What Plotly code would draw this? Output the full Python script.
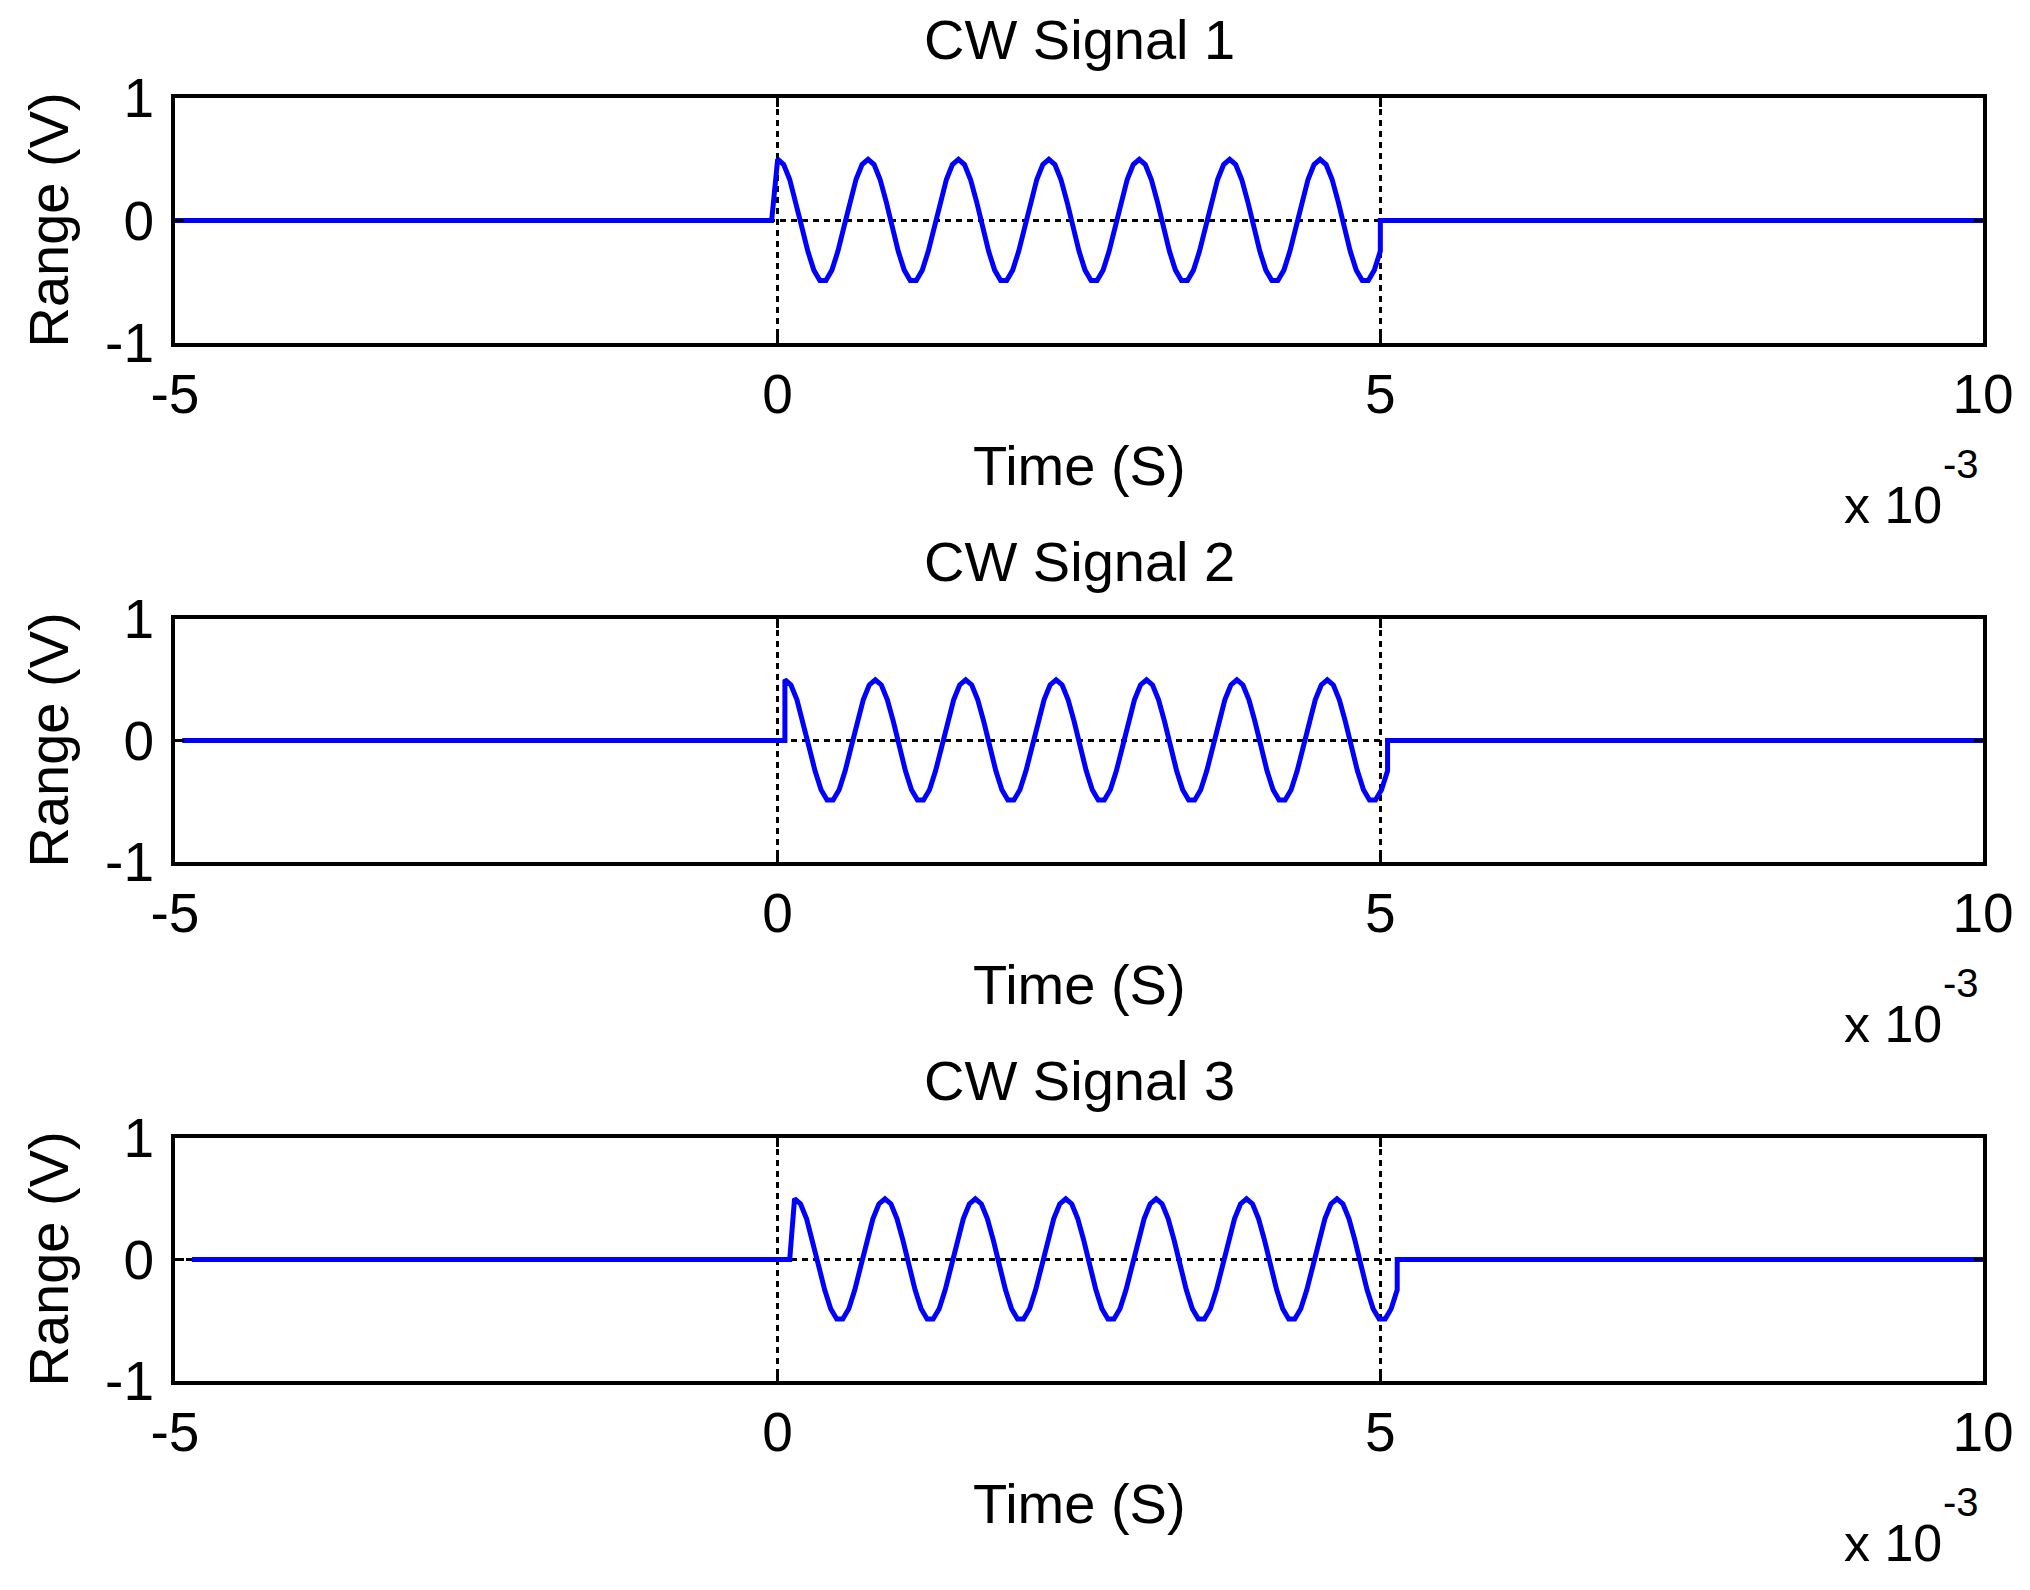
import plotly.graph_objects as go

# ---------------- data ----------------
titles = ["CW Signal 1", "CW Signal 2", "CW Signal 3"]
x_tick_vals = [-5e-3, 0.0, 5e-3, 10e-3]
x_tick_text = ["-5", "0", "5", "10"]
y_tick_vals = [-1, 0, 1]
y_tick_text = ["-1", "0", "1"]

sample_step = 0.05e-3          # seconds between samples
# one period of the sampled carrier (0.75 ms, 15 samples), amplitude 0.5 V
cycle_values = [0.5, 0.457, 0.335, 0.155, -0.052, -0.25, -0.405, -0.489,
                -0.489, -0.405, -0.25, -0.052, 0.155, 0.335, 0.457]
n_pulse_samples = 101          # samples from pulse start to pulse end (5 ms)
pulse_len = 5e-3
delays = [0.0, 0.06e-3, 0.14e-3]        # signal start delays (s)
rise_gaps = [0.05e-3, 0.0, 0.04e-3]     # last zero sample before pulse start
t_start, t_end = -5e-3, 10e-3

# ---------------- figure ----------------
W, H = 2030, 1590
PAGE_OFF = 8   # default body margin of the html page
FONT = "Liberation Sans, Arial, sans-serif"
plot_left, plot_right = 175, 1983
plot_tops = [98, 619, 1138]
plot_bottoms = [343, 862, 1381]


def fx(px):
    return (px - PAGE_OFF) / W


def fy(py):
    return 1 - (py - PAGE_OFF) / H


fig = go.Figure()
annotations = []

for i in range(3):
    d = delays[i]
    t = [t_start + d, d - rise_gaps[i]]
    v = [0.0, 0.0]
    for k in range(n_pulse_samples):
        t.append(d + k * sample_step)
        v.append(cycle_values[k % len(cycle_values)])
    t += [d + pulse_len, t_end + d]
    v += [0.0, 0.0]

    xa = "x" if i == 0 else f"x{i+1}"
    ya = "y" if i == 0 else f"y{i+1}"
    fig.add_trace(go.Scatter(x=t, y=v, mode="lines",
                             line=dict(color="#0000ff", width=5),
                             xaxis=xa, yaxis=ya, showlegend=False,
                             cliponaxis=True))

    axis_common = dict(showline=True, linecolor="black", linewidth=4,
                       mirror="ticks", ticks="inside", ticklen=9,
                       tickwidth=3, tickcolor="black", automargin=False,
                       showgrid=True, gridcolor="black", gridwidth=3,
                       griddash="6px,5px", zeroline=False,
                       tickfont=dict(family=FONT, size=55, color="black"))
    xkey = "xaxis" if i == 0 else f"xaxis{i+1}"
    ykey = "yaxis" if i == 0 else f"yaxis{i+1}"
    fig.update_layout({
        xkey: dict(axis_common, domain=[fx(plot_left), fx(plot_right)],
                   range=[t_start, t_end], tickvals=x_tick_vals,
                   ticktext=x_tick_text, anchor=ya, ticklabelstandoff=0),
        ykey: dict(axis_common,
                   domain=[fy(plot_bottoms[i]), fy(plot_tops[i])],
                   range=[-1, 1], tickvals=y_tick_vals,
                   ticktext=y_tick_text, anchor=xa, ticklabelstandoff=6),
    })

    cx = (plot_left + plot_right) / 2
    annotations.append(dict(text=titles[i], x=fx(cx), y=fy(plot_tops[i] - 58),
                            xref="paper", yref="paper", showarrow=False,
                            xanchor="center", yanchor="middle",
                            font=dict(family=FONT, size=56, color="black")))
    annotations.append(dict(text="Time (S)", x=fx(cx),
                            y=fy(plot_bottoms[i] + 122),
                            xref="paper", yref="paper", showarrow=False,
                            xanchor="center", yanchor="middle",
                            font=dict(family=FONT, size=56, color="black")))
    annotations.append(dict(text="Range (V)", x=fx(48),
                            y=fy((plot_tops[i] + plot_bottoms[i]) / 2),
                            xref="paper", yref="paper", showarrow=False,
                            textangle=-90, xanchor="center", yanchor="middle",
                            font=dict(family=FONT, size=56, color="black")))
    # axis multiplier "x 10^-3"
    annotations.append(dict(text="x 10", x=fx(1944),
                            y=fy(plot_bottoms[i] + 162),
                            xref="paper", yref="paper", showarrow=False,
                            xanchor="right", yanchor="middle",
                            font=dict(family=FONT, size=52, color="black")))
    annotations.append(dict(text="-3", x=fx(1941),
                            y=fy(plot_bottoms[i] + 121),
                            xref="paper", yref="paper", showarrow=False,
                            xanchor="left", yanchor="middle",
                            font=dict(family=FONT, size=40, color="black")))

fig.update_layout(width=W, height=H, margin=dict(l=0, r=0, t=0, b=0),
                  paper_bgcolor="white", plot_bgcolor="white",
                  annotations=annotations)

fig.write_html("out.html")
